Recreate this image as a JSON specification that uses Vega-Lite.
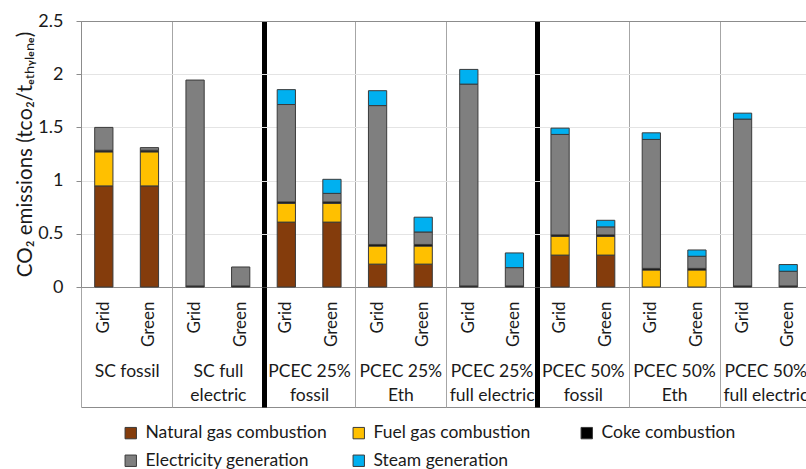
{
  "$schema": "https://vega.github.io/schema/vega-lite/v6.json",
  "autosize": {"type": "none"},
  "padding": {"left": 81, "top": 21, "right": 0, "bottom": 182},
  "width": 730,
  "height": 266,
  "background": "white",
  "config": {
    "font": "Lato",
    "view": {"stroke": "#8c8c8c", "strokeWidth": 1},
    "axis": {"labelFont": "Lato", "titleFont": "Lato", "labelColor": "#1a1a1a", "titleColor": "#1a1a1a"}
  },
  "data": {
    "values": [
      {"group": "SC fossil", "sub": "Grid", "source": "Natural gas combustion", "value": 0.95},
      {"group": "SC fossil", "sub": "Grid", "source": "Fuel gas combustion", "value": 0.32},
      {"group": "SC fossil", "sub": "Grid", "source": "Coke combustion", "value": 0.015},
      {"group": "SC fossil", "sub": "Grid", "source": "Electricity generation", "value": 0.215},
      {"group": "SC fossil", "sub": "Green", "source": "Natural gas combustion", "value": 0.95},
      {"group": "SC fossil", "sub": "Green", "source": "Fuel gas combustion", "value": 0.32},
      {"group": "SC fossil", "sub": "Green", "source": "Coke combustion", "value": 0.015},
      {"group": "SC fossil", "sub": "Green", "source": "Electricity generation", "value": 0.025},
      {"group": "SC full\nelectric", "sub": "Grid", "source": "Coke combustion", "value": 0.01},
      {"group": "SC full\nelectric", "sub": "Grid", "source": "Electricity generation", "value": 1.935},
      {"group": "SC full\nelectric", "sub": "Green", "source": "Coke combustion", "value": 0.01},
      {"group": "SC full\nelectric", "sub": "Green", "source": "Electricity generation", "value": 0.178},
      {"group": "PCEC 25%\nfossil", "sub": "Grid", "source": "Natural gas combustion", "value": 0.61},
      {"group": "PCEC 25%\nfossil", "sub": "Grid", "source": "Fuel gas combustion", "value": 0.175},
      {"group": "PCEC 25%\nfossil", "sub": "Grid", "source": "Coke combustion", "value": 0.015},
      {"group": "PCEC 25%\nfossil", "sub": "Grid", "source": "Electricity generation", "value": 0.915},
      {"group": "PCEC 25%\nfossil", "sub": "Grid", "source": "Steam generation", "value": 0.14},
      {"group": "PCEC 25%\nfossil", "sub": "Green", "source": "Natural gas combustion", "value": 0.61},
      {"group": "PCEC 25%\nfossil", "sub": "Green", "source": "Fuel gas combustion", "value": 0.175},
      {"group": "PCEC 25%\nfossil", "sub": "Green", "source": "Coke combustion", "value": 0.015},
      {"group": "PCEC 25%\nfossil", "sub": "Green", "source": "Electricity generation", "value": 0.08},
      {"group": "PCEC 25%\nfossil", "sub": "Green", "source": "Steam generation", "value": 0.132},
      {"group": "PCEC 25%\nEth", "sub": "Grid", "source": "Natural gas combustion", "value": 0.215},
      {"group": "PCEC 25%\nEth", "sub": "Grid", "source": "Fuel gas combustion", "value": 0.17},
      {"group": "PCEC 25%\nEth", "sub": "Grid", "source": "Coke combustion", "value": 0.015},
      {"group": "PCEC 25%\nEth", "sub": "Grid", "source": "Electricity generation", "value": 1.305},
      {"group": "PCEC 25%\nEth", "sub": "Grid", "source": "Steam generation", "value": 0.14},
      {"group": "PCEC 25%\nEth", "sub": "Green", "source": "Natural gas combustion", "value": 0.215},
      {"group": "PCEC 25%\nEth", "sub": "Green", "source": "Fuel gas combustion", "value": 0.17},
      {"group": "PCEC 25%\nEth", "sub": "Green", "source": "Coke combustion", "value": 0.015},
      {"group": "PCEC 25%\nEth", "sub": "Green", "source": "Electricity generation", "value": 0.117},
      {"group": "PCEC 25%\nEth", "sub": "Green", "source": "Steam generation", "value": 0.139},
      {"group": "PCEC 25%\nfull electric", "sub": "Grid", "source": "Coke combustion", "value": 0.01},
      {"group": "PCEC 25%\nfull electric", "sub": "Grid", "source": "Electricity generation", "value": 1.897},
      {"group": "PCEC 25%\nfull electric", "sub": "Grid", "source": "Steam generation", "value": 0.138},
      {"group": "PCEC 25%\nfull electric", "sub": "Green", "source": "Coke combustion", "value": 0.01},
      {"group": "PCEC 25%\nfull electric", "sub": "Green", "source": "Electricity generation", "value": 0.172},
      {"group": "PCEC 25%\nfull electric", "sub": "Green", "source": "Steam generation", "value": 0.138},
      {"group": "PCEC 50%\nfossil", "sub": "Grid", "source": "Natural gas combustion", "value": 0.30},
      {"group": "PCEC 50%\nfossil", "sub": "Grid", "source": "Fuel gas combustion", "value": 0.175},
      {"group": "PCEC 50%\nfossil", "sub": "Grid", "source": "Coke combustion", "value": 0.015},
      {"group": "PCEC 50%\nfossil", "sub": "Grid", "source": "Electricity generation", "value": 0.944},
      {"group": "PCEC 50%\nfossil", "sub": "Grid", "source": "Steam generation", "value": 0.059},
      {"group": "PCEC 50%\nfossil", "sub": "Green", "source": "Natural gas combustion", "value": 0.30},
      {"group": "PCEC 50%\nfossil", "sub": "Green", "source": "Fuel gas combustion", "value": 0.175},
      {"group": "PCEC 50%\nfossil", "sub": "Green", "source": "Coke combustion", "value": 0.015},
      {"group": "PCEC 50%\nfossil", "sub": "Green", "source": "Electricity generation", "value": 0.075},
      {"group": "PCEC 50%\nfossil", "sub": "Green", "source": "Steam generation", "value": 0.062},
      {"group": "PCEC 50%\nEth", "sub": "Grid", "source": "Fuel gas combustion", "value": 0.16},
      {"group": "PCEC 50%\nEth", "sub": "Grid", "source": "Coke combustion", "value": 0.015},
      {"group": "PCEC 50%\nEth", "sub": "Grid", "source": "Electricity generation", "value": 1.212},
      {"group": "PCEC 50%\nEth", "sub": "Grid", "source": "Steam generation", "value": 0.062},
      {"group": "PCEC 50%\nEth", "sub": "Green", "source": "Fuel gas combustion", "value": 0.16},
      {"group": "PCEC 50%\nEth", "sub": "Green", "source": "Coke combustion", "value": 0.015},
      {"group": "PCEC 50%\nEth", "sub": "Green", "source": "Electricity generation", "value": 0.114},
      {"group": "PCEC 50%\nEth", "sub": "Green", "source": "Steam generation", "value": 0.059},
      {"group": "PCEC 50%\nfull electric", "sub": "Grid", "source": "Coke combustion", "value": 0.01},
      {"group": "PCEC 50%\nfull electric", "sub": "Grid", "source": "Electricity generation", "value": 1.568},
      {"group": "PCEC 50%\nfull electric", "sub": "Grid", "source": "Steam generation", "value": 0.056},
      {"group": "PCEC 50%\nfull electric", "sub": "Green", "source": "Coke combustion", "value": 0.01},
      {"group": "PCEC 50%\nfull electric", "sub": "Green", "source": "Electricity generation", "value": 0.138},
      {"group": "PCEC 50%\nfull electric", "sub": "Green", "source": "Steam generation", "value": 0.063}
    ]
  },
  "transform": [
    {"calculate": "datum.group + '|' + datum.sub", "as": "bar"},
    {"calculate": "indexof(['Natural gas combustion', 'Fuel gas combustion', 'Coke combustion', 'Electricity generation', 'Steam generation'], datum.source)", "as": "stackOrder"}
  ],
  "resolve": {"scale": {"x": "independent"}, "axis": {"x": "independent"}},
  "layer": [
    {
      "mark": {"type": "bar", "stroke": "#3a3a3a", "strokeWidth": 1},
      "encoding": {
        "x": {
          "field": "bar",
          "type": "nominal",
          "sort": null,
          "scale": {"paddingInner": 0.6, "paddingOuter": 0.3},
          "axis": {
            "orient": "bottom",
            "offset": 120,
            "title": null,
            "domain": true,
            "domainColor": "#8c8c8c",
            "ticks": false,
            "labelAngle": -90,
            "labelPadding": -106,
            "labelFontSize": 17,
            "labelOverlap": false,
            "labelExpr": "isString(datum.value) ? split(datum.value, '|')[1] : ''"
          }
        },
        "y": {
          "field": "value",
          "type": "quantitative",
          "stack": "zero",
          "scale": {"domain": [0, 2.5]},
          "axis": {
            "title": "CO₂ emissions (tᴄᴏ₂/tₑₜₕᵧₗₑₙₑ)",
            "titleFontSize": 20.5,
            "titleFontWeight": "normal",
            "titlePadding": 2,
            "values": [0, 0.5, 1, 1.5, 2, 2.5],
            "format": "~g",
            "labelFontSize": 18,
            "labelPadding": 13,
            "tickSize": 5,
            "tickColor": "#8c8c8c",
            "domainColor": "#8c8c8c",
            "grid": true,
            "gridColor": {"condition": {"test": "datum.value == 0 || datum.value == 2.5", "value": "#8c8c8c"}, "value": "#e4e4e4"}
          }
        },
        "order": {"field": "stackOrder", "type": "quantitative", "sort": "ascending"},
        "color": {
          "field": "source",
          "type": "nominal",
          "scale": {
            "domain": ["Natural gas combustion", "Fuel gas combustion", "Coke combustion", "Electricity generation", "Steam generation"],
            "range": ["#843c0c", "#ffc000", "#000000", "#7f7f7f", "#00b0f0"]
          },
          "legend": {
            "orient": "none",
            "legendX": 41,
            "legendY": 403,
            "direction": "horizontal",
            "columns": 3,
            "gridAlign": "all",
            "columnPadding": 23,
            "rowPadding": 9,
            "title": null,
            "symbolType": "square",
            "symbolSize": 130,
            "symbolStrokeColor": "#3a3a3a",
            "symbolStrokeWidth": 1,
            "labelFontSize": 17.5,
            "labelColor": "#1a1a1a",
            "labelOffset": 6,
            "labelLimit": 0
          }
        }
      }
    },
    {
      "mark": {"type": "text", "text": ""},
      "encoding": {
        "x": {
          "field": "group",
          "type": "nominal",
          "sort": null,
          "scale": {"paddingInner": 0, "paddingOuter": 0},
          "axis": {
            "orient": "bottom",
            "title": null,
            "domain": false,
            "grid": true,
            "ticks": true,
            "tickBand": "extent",
            "tickSize": 120,
            "gridColor": {"condition": {"test": "isString(datum.value) && indexof(datum.value, 'electric') >= 0 && indexof(datum.value, '50%') < 0", "value": "#000000"}, "value": "#a6a6a6"},
            "gridWidth": {"condition": {"test": "isString(datum.value) && indexof(datum.value, 'electric') >= 0 && indexof(datum.value, '50%') < 0", "value": 5}, "value": 1},
            "tickColor": {"condition": {"test": "isString(datum.value) && indexof(datum.value, 'electric') >= 0 && indexof(datum.value, '50%') < 0", "value": "#000000"}, "value": "#a6a6a6"},
            "tickWidth": {"condition": {"test": "isString(datum.value) && indexof(datum.value, 'electric') >= 0 && indexof(datum.value, '50%') < 0", "value": 5}, "value": 1},
            "labelAngle": 0,
            "labelAlign": "center",
            "labelBaseline": "top",
            "labelPadding": -45,
            "labelFontSize": 17.5,
            "labelLineHeight": 24,
            "labelLimit": 0,
            "labelOverlap": false,
            "labelExpr": "isString(datum.value) ? split(datum.value, '\\n') : ''"
          }
        }
      }
    }
  ]
}
